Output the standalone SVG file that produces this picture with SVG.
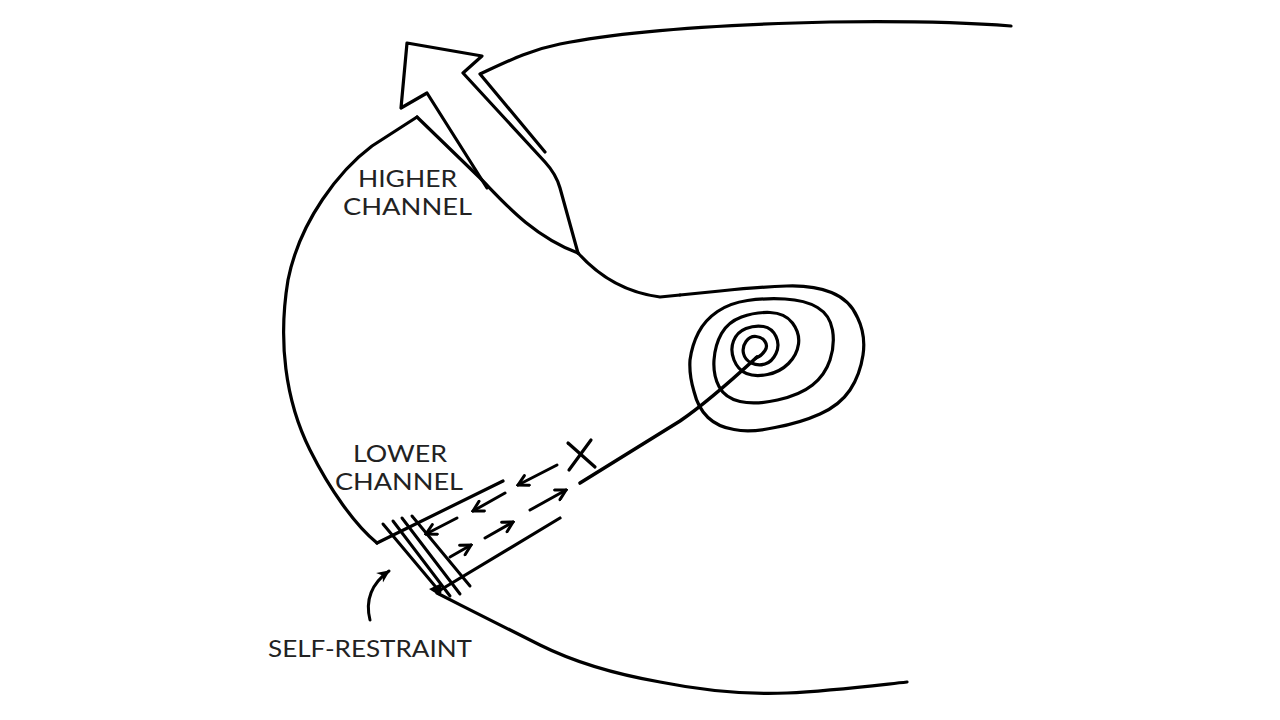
<svg xmlns="http://www.w3.org/2000/svg" width="1280" height="720" viewBox="0 0 1280 720">
<defs>
<style>
.ln{fill:none;stroke:#000;stroke-width:3.2;stroke-linecap:round;stroke-linejoin:round}
.th{fill:none;stroke:#000;stroke-width:3;stroke-linecap:round}
.ar{fill:none;stroke:#000;stroke-width:3;stroke-linecap:round}
.lbl{font-family:Lato,"Open Sans","Liberation Sans",sans-serif;font-size:24px;fill:#222;text-anchor:middle}
</style>
<marker id="ah" viewBox="0 0 14 14" refX="12" refY="7" markerUnits="userSpaceOnUse" markerWidth="14" markerHeight="14" orient="auto">
<path d="M2,1.5 L12,7 L2,12.5" fill="none" stroke="#000" stroke-width="3" stroke-linecap="round" stroke-linejoin="miter"/>
</marker>
<marker id="ahf" viewBox="0 0 10 10" refX="9" refY="5" markerUnits="userSpaceOnUse" markerWidth="13" markerHeight="13" orient="auto">
<path d="M0,0.5 L10,5 L0,9.5 L3,5 z" fill="#000"/>
</marker>
</defs>
<rect width="1280" height="720" fill="#fff"/>

<g id="body">
<path class="ln" d="M417,117 L372,146 C340,170 300,220 288,280 C278,340 285,400 310,450 C330,490 355,525 377,543"/>
<path class="ln" d="M417,117 L480,178 C500,198 530,235 578,253"/>
<path class="ln" d="M578,253 C595,272 620,292 660,297 L680,295"/>
<path class="ln" d="M545,152 L480,74 C510,60 530,50 560,44 C620,32 700,25 830,22 C900,21 960,22 1011,26"/>
<path class="ln" d="M437,593 C470,610 500,625 540,645 C580,665 620,675 660,682 C700,690 740,695 787,693 C830,691 870,686 907,682"/>
<polygon points="429,589 442,583 440,596" fill="#000"/>
</g>

<g id="arrow-up">
<path class="ln" d="M487,188 L427,93 L401,108 L407,43 L482,56 L463,73 L545,162 Q556,174 560,188 L578,253"/>
</g>

<g id="spiral">
<path class="ln" d="M680,295 L720,291 Q760,287 786.5,286 Q813,285 831.5,292.5 Q850,300 857.5,317.5 Q866,335 863,355 Q860,375 850,390 Q840,405 820,414 Q800,423 775,427.5 Q750,433 734,429.5 Q718,427 708,417.5 Q698,408 694,391.5 Q689,375 690,360 Q692,345 698.5,332.5 Q705,320 717.5,311.5 Q730,303 747.5,300.5 Q765,298 785,299 Q805,300 817.5,307.5 Q830,315 832.5,330 Q835,345 830,360 Q825,375 812.5,385 Q800,395 777.5,400 Q755,405 740,401.5 Q725,398 719,386.5 Q713,375 714,360 Q715,345 721.5,333.5 Q728,322 741.5,317 Q755,312 770,312.5 Q785,313 792.5,323 Q800,333 798.5,344 Q797,355 788.5,363.5 Q780,372 767.5,374.5 Q755,377 746.5,373.5 Q738,370 734,360 Q730,350 733.5,341 Q737,332 746,328.5 Q755,325 763.5,326.5 Q772,328 776,336.5 Q780,345 776,353.5 Q772,362 765,364 Q758,366 751.5,363 Q745,360 743.5,353.5 Q742,347 746,341.5 Q750,336 756,336.5 Q762,337 765,341.5 Q768,346 765,350.5 Q762,355 759,356.5 L756,358"/>
<path class="ln" d="M757,357 Q708,402 680,421 L580,483" style="stroke-width:3.6"/>
</g>

<g id="lower-channel">
<path class="ln" d="M377,543 L503,481"/>
<path class="ln" d="M437,592 L560,518"/>
<path class="th" d="M383,524 L440,592"/>
<path class="th" d="M393,521 L450,596"/>
<path class="th" d="M402,518 L460,594"/>
<path class="th" d="M412,516 L470,586"/>
<path class="ln" d="M568,443 L595,467"/>
<path class="ln" d="M591,440 L569,470"/>
</g>

<g id="connectors">
<path class="ar" d="M557,465 L518,485" marker-end="url(#ah)"/>
<path class="ar" d="M505,493 L473,511" marker-end="url(#ah)"/>
<path class="ar" d="M457,518 L426,534" marker-end="url(#ah)"/>
<path class="ar" d="M450,557 L471,545" marker-end="url(#ah)"/>
<path class="ar" d="M485,538 L513,522" marker-end="url(#ah)"/>
<path class="ar" d="M530,510 L566,490" marker-end="url(#ah)"/>
<path class="ar" d="M370,620 C365,600 371,584 389,571" marker-end="url(#ahf)"/>
</g>

<g id="labels">
<text class="lbl" x="407.5" y="187" textLength="99" lengthAdjust="spacingAndGlyphs">HIGHER</text>
<text class="lbl" x="407.5" y="215" textLength="129" lengthAdjust="spacingAndGlyphs">CHANNEL</text>
<text class="lbl" x="400" y="462" textLength="94" lengthAdjust="spacingAndGlyphs">LOWER</text>
<text class="lbl" x="399" y="490" textLength="128" lengthAdjust="spacingAndGlyphs">CHANNEL</text>
<text class="lbl" x="370" y="657" textLength="204" lengthAdjust="spacingAndGlyphs">SELF-RESTRAINT</text>
</g>
</svg>
